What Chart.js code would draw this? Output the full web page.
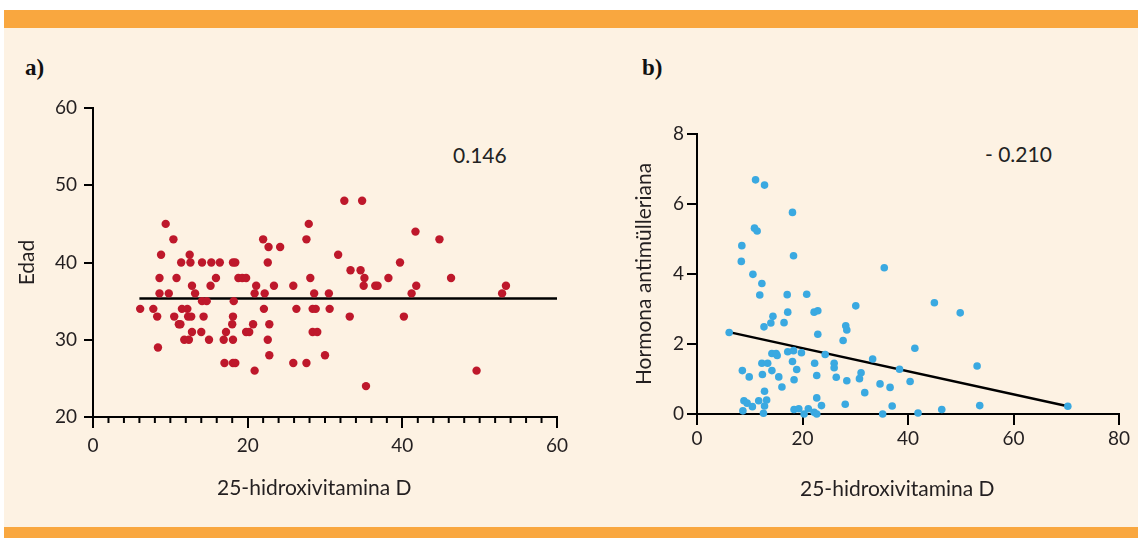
<!DOCTYPE html>
<html>
<head>
<meta charset="utf-8">
<script src="https://cdn.jsdelivr.net/npm/chart.js@4.4.1/dist/chart.umd.min.js"></script>
<style>
    body { margin: 0; background: #fff; width: 1138px; height: 538px; overflow: hidden; position: relative; font-family: Lato, sans-serif; }
    .band { position: absolute; left: 4px; width: 1134px; background: #f9a73f; }
    .panel { position: absolute; left: 4px; top: 28px; width: 1134px; height: 499px; background: #fdf2e3; }
    .box { position: absolute; }
    .tag { position: absolute; font-family: 'Liberation Serif', serif; font-weight: bold; font-size: 23px; color: #111; }
    .r { position: absolute; font-size: 21px; color: #222; }
</style>
</head>
<body>
<div class="band" style="top:10px;height:18px"></div>
<div class="panel"></div>
<div class="band" style="top:527px;height:11px"></div>

<div class="tag" style="left:25px;top:55px">a)</div>
<div class="tag" style="left:642px;top:55px">b)</div>
<div class="r" style="left:453px;top:142px">0.146</div>
<div class="r" style="left:985px;top:141px">- 0.210</div>

<div class="box" style="left:0;top:30px"><canvas id="chartA" width="580" height="480"></canvas></div>
<div class="box" style="left:590px;top:30px"><canvas id="chartB" width="548" height="480"></canvas></div>

<script>
// a) Edad vs 25-hidroxivitamina D
const vitD_a = [
    32.5, 34.8,
    9.4, 27.9,
    41.7,
    10.4, 22.0, 27.6, 44.8,
    22.7, 24.2,
    8.8, 12.5, 31.7,
    11.4, 12.6, 14.1, 15.3, 16.4, 18.1, 18.4, 22.6, 39.7,
    33.3, 34.6,
    8.6, 10.8, 15.9, 18.8, 19.3, 19.8, 28.1, 35.1, 38.2, 46.3,
    12.8, 15.2, 21.1, 23.4, 25.9, 35.0, 36.5, 36.8, 41.8, 53.4,
    8.6, 9.8, 13.2, 20.9, 22.2, 28.6, 30.5, 41.2, 52.9,
    14.1, 14.7, 18.2,
    6.1, 7.8, 11.5, 12.2, 22.1, 26.3, 28.4, 28.8, 30.6,
    8.3, 10.5, 12.3, 12.7, 14.3, 18.1, 33.2, 40.2,
    11.1, 11.3, 18.0, 20.7, 22.8,
    12.8, 14.0, 17.2, 19.8, 20.2, 28.4, 29.0,
    11.8, 12.4, 15.0, 16.9, 18.1, 22.6,
    8.4,
    22.8, 30.0,
    17.0, 18.1, 18.4, 25.9, 27.6,
    20.9, 49.6,
    35.3
]
const edad = [
    48, 48,
    45, 45,
    44,
    43, 43, 43, 43,
    42, 42,
    41, 41, 41,
    40, 40, 40, 40, 40, 40, 40, 40, 40,
    39, 39,
    38, 38, 38, 38, 38, 38, 38, 38, 38, 38,
    37, 37, 37, 37, 37, 37, 37, 37, 37, 37,
    36, 36, 36, 36, 36, 36, 36, 36, 36,
    35, 35, 35,
    34, 34, 34, 34, 34, 34, 34, 34, 34,
    33, 33, 33, 33, 33, 33, 33, 33,
    32, 32, 32, 32, 32,
    31, 31, 31, 31, 31, 31, 31,
    30, 30, 30, 30, 30, 30,
    29,
    28, 28,
    27, 27, 27, 27, 27,
    26, 26,
    24
]
const fitA_x = [6, 60]
const fitA_y = [35.35, 35.35]

// b) Hormona antimülleriana vs 25-hidroxivitamina D
const vitD_b = [
    11.1, 12.8, 18.1, 10.9, 11.4, 8.5, 18.3, 8.4, 10.6, 12.3,
    11.9, 17.1, 20.8, 14.4, 14.0, 17.2, 16.5, 12.7, 22.2, 22.9,
    28.2, 28.4, 22.9, 27.7, 6.1, 14.2, 15.0, 15.2, 17.2, 18.3,
    19.8, 24.3, 12.3, 13.4, 18.1, 22.3, 26.0, 26.0, 8.6, 9.9,
    12.4, 14.2, 15.5, 18.9, 18.4, 22.7, 26.4, 28.4, 16.1, 12.8,
    8.9, 9.5, 10.5, 8.7, 11.7, 13.2, 12.8, 12.6, 18.4, 19.3,
    20.3, 21.1, 22.2, 22.7, 23.6, 22.7, 28.1,
    35.5, 45.0, 49.9, 30.1, 41.3, 33.3, 38.4, 53.1, 31.1, 30.8,
    34.7, 36.6, 40.4, 31.8, 37.0, 35.2, 41.9, 46.4, 53.6, 70.3
]
const amh = [
    6.69, 6.54, 5.76, 5.31, 5.23, 4.81, 4.52, 4.36, 3.99, 3.73,
    3.40, 3.41, 3.42, 2.79, 2.60, 2.91, 2.61, 2.49, 2.91, 2.95,
    2.52, 2.40, 2.28, 2.10, 2.33, 1.73, 1.73, 1.67, 1.78, 1.81,
    1.75, 1.70, 1.45, 1.45, 1.50, 1.45, 1.45, 1.32, 1.24, 1.06,
    1.13, 1.24, 1.06, 1.27, 0.98, 1.10, 1.05, 0.95, 0.77, 0.65,
    0.38, 0.31, 0.21, 0.09, 0.38, 0.40, 0.23, 0.02, 0.13, 0.15,
    0.00, 0.15, 0.05, 0.00, 0.24, 0.46, 0.28,
    4.18, 3.18, 2.89, 3.09, 1.88, 1.57, 1.28, 1.37, 1.18, 1.01,
    0.86, 0.76, 0.93, 0.61, 0.23, 0.00, 0.03, 0.13, 0.24, 0.22
]
const fitB_x = [6.1, 70.3]
const fitB_y = [2.34, 0.22]

const ticksA_x = [0, 20, 40, 60]
const ticksA_y = [20, 30, 40, 50, 60]
const ticksB_x = [0, 20, 40, 60, 80]
const ticksB_y = [0, 2, 4, 6, 8]

const ink = '#231f20'
const tickFont = { family: 'Lato', size: 19 }
const titleFont = { family: 'Lato', size: 21 }
// trailing spaces nudge the centred x titles a little to the left, as in the original
const xTitle = '25-hidroxivitamina D\u00a0\u00a0\u00a0\u00a0'

function pairs(xs, ys) {
    return xs.map((x, i) => ({ x: x, y: ys[i] }))
}

// small ticks every 2 units along the x axis of chart a
const minorTicks = {
    id: 'minorTicks',
    afterDraw(chart, args, opts) {
        if (!opts.step) return
        const sc = chart.scales.x
        const ctx = chart.ctx
        ctx.save()
        ctx.strokeStyle = '#000'
        ctx.lineWidth = 2
        for (let v = sc.min; v <= sc.max; v += opts.step) {
            if (v % opts.major === 0) continue
            const px = sc.getPixelForValue(v)
            ctx.beginPath()
            ctx.moveTo(px, sc.top)
            ctx.lineTo(px, sc.top + 6)
            ctx.stroke()
        }
        ctx.restore()
    }
}

function axis(min, max, ticks, size, title, opt) {
    return {
        type: 'linear',
        min: min,
        max: max,
        afterBuildTicks: s => { s.ticks = ticks.map(v => ({ value: v })) },
        afterFit: s => { if (opt.horizontal) s.height = size; else s.width = size },
        border: { display: true, color: '#000', width: 2 },
        grid: { drawOnChartArea: false, drawTicks: true, tickLength: opt.tickLength, color: '#000', lineWidth: 2 },
        ticks: { color: ink, font: tickFont, padding: opt.padding, autoSkip: false, maxRotation: 0 },
        title: { display: true, text: title, color: ink, font: titleFont, padding: opt.titlePad }
    }
}

function makeChart(id, cfg) {
    return new Chart(document.getElementById(id), {
        type: 'scatter',
        data: {
            datasets: [
                {
                    data: pairs(cfg.xs, cfg.ys),
                    backgroundColor: cfg.color,
                    borderWidth: 0,
                    pointRadius: cfg.radius,
                    clip: false
                },
                {
                    data: pairs(cfg.fitX, cfg.fitY),
                    showLine: true,
                    borderColor: '#000',
                    borderWidth: 2.5,
                    pointRadius: 0,
                    clip: false
                }
            ]
        },
        options: {
            responsive: false,
            animation: false,
            layout: { padding: cfg.padding },
            plugins: { legend: { display: false }, tooltip: { enabled: false }, minorTicks: cfg.minor },
            scales: { x: cfg.x, y: cfg.y }
        },
        plugins: [minorTicks]
    })
}

makeChart('chartA', {
    xs: vitD_a, ys: edad, fitX: fitA_x, fitY: fitA_y,
    color: '#be182b', radius: 4.2,
    padding: { left: 0, top: 78, right: 23, bottom: 8 },
    minor: { step: 2, major: 20 },
    x: axis(0, 60, ticksA_x, 85, xTitle, { horizontal: true, tickLength: 11, padding: 6, titlePad: { bottom: 1 } }),
    y: axis(20, 60, ticksA_y, 93, 'Edad', { tickLength: 9, padding: 7, titlePad: { top: 15 } })
})

makeChart('chartB', {
    xs: vitD_b, ys: amh, fitX: fitB_x, fitY: fitB_y,
    color: '#3aa9e1', radius: 3.8,
    padding: { left: 0, top: 104, right: 19, bottom: 8 },
    minor: {},
    x: axis(0, 80, ticksB_x, 88, xTitle, { horizontal: true, tickLength: 11, padding: 2, titlePad: { bottom: 0 } }),
    y: axis(0, 8, ticksB_y, 107, 'Hormona antimülleriana', { tickLength: 10, padding: 3, titlePad: { top: 42 } })
})
</script>
</body>
</html>
